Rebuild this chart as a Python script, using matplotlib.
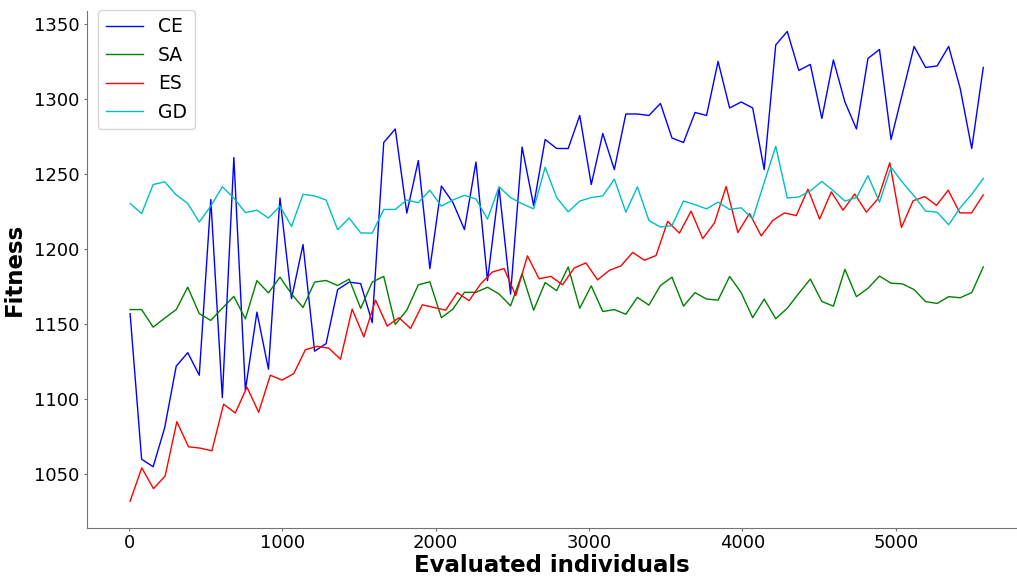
import numpy as np
import matplotlib
matplotlib.use('Agg')
import matplotlib.pyplot as plt

# fitness per algorithm
ce = [1157, 1060, 1055, 1081, 1122, 1131, 1116, 1233, 1101, 1261,
      1106, 1158, 1120, 1234, 1167, 1203, 1132, 1137, 1173, 1178,
      1177, 1151, 1271, 1280, 1224, 1259, 1187, 1242, 1231, 1213,
      1258, 1179, 1241, 1170, 1268, 1229, 1273, 1267, 1267, 1289,
      1243, 1277, 1253, 1290, 1290, 1289, 1297, 1274, 1271, 1291,
      1289, 1325, 1294, 1298, 1294, 1253, 1336, 1345, 1319, 1323,
      1287, 1326, 1298, 1280, 1327, 1333, 1273, 1304, 1335, 1321,
      1322, 1335, 1307, 1267, 1321]
sa = [1159.7, 1159.7, 1148, 1154, 1159.7, 1174.6, 1157, 1152.5, 1160.6, 1168.5,
      1153.5, 1179, 1170.8, 1181.3, 1170.1, 1161.1, 1178, 1179.1, 1175.7, 1180,
      1160.5, 1178, 1181.8, 1149.8, 1159.3, 1176.2, 1178.2, 1154.3, 1160, 1171.2,
      1171.2, 1174.6, 1170.1, 1162.2, 1183.6, 1159.3, 1177.7, 1172.3, 1188.1, 1160.6,
      1175.5, 1158.4, 1159.7, 1156.6, 1167.8, 1162.7, 1175.7, 1181.3, 1162, 1171,
      1166.7, 1166, 1181.8, 1171, 1154.3, 1166.7, 1153.6, 1160.6, 1170.5, 1180,
      1165.1, 1162, 1186.5, 1168.3, 1173.9, 1182, 1177.3, 1176.8, 1173, 1165,
      1163.8, 1168.3, 1167.6, 1171, 1188.1]
es = [1032, 1054.3, 1040.4, 1048.9, 1085, 1068.3, 1067.4, 1065.6, 1096.7, 1090.8,
      1108, 1091.3, 1116, 1112.7, 1117, 1133, 1135.2, 1134, 1126.6, 1160,
      1141.5, 1166, 1148.7, 1154.3, 1147.1, 1162.9, 1161.1, 1159.3, 1171, 1165.6,
      1176.8, 1184.7, 1187, 1169, 1195.5, 1180.2, 1181.8, 1176.2, 1187.4, 1190.8,
      1179.5, 1185.8, 1188.8, 1197.8, 1192.6, 1195.7, 1218.5, 1210.6, 1225.3, 1207,
      1217.4, 1241.7, 1211, 1223.7, 1208.8, 1219.2, 1224.1, 1222.3, 1239.9, 1220,
      1238.1, 1225.9, 1236.7, 1224.6, 1233.6, 1257.5, 1214.4, 1232.2, 1235, 1229.1,
      1239.2, 1224.1, 1224.1, 1236.1]
gd = [1230.4, 1223.7, 1243, 1244.8, 1236.1, 1230.4, 1218, 1228.6, 1241.5, 1234,
      1224.3, 1225.9, 1220.7, 1228.6, 1215.1, 1236.5, 1235.4, 1232.7, 1212.9, 1220.7,
      1210.8, 1210.6, 1226.4, 1226.4, 1232.7, 1230.9, 1239.2, 1228.6, 1232.7, 1235.8,
      1233.4, 1220, 1241.5, 1234.3, 1230.2, 1226.8, 1254.5, 1234.3, 1224.8, 1232,
      1234.3, 1235.4, 1246.6, 1224.6, 1241.5, 1219, 1214.7, 1215.6, 1232, 1229.6,
      1226.8, 1231.3, 1226.4, 1227.5, 1220.1, 1244.4, 1268.5, 1234, 1234.7, 1238.8,
      1245.1, 1238.8, 1232, 1234.3, 1248.9, 1231.3, 1254.5, 1244.4, 1235.4, 1225.3,
      1224.6, 1216.2, 1227.5, 1236.5, 1247.1]

# evaluated individuals: same span, ES has one generation less
x_first, x_last = 7, 5570
x_ce = np.linspace(x_first, x_last, len(ce))
x_es = np.linspace(x_first, x_last, len(es))

fig = plt.figure(figsize=(10.17, 5.79), dpi=100)
ax = fig.add_axes([87 / 1017, 1 - 528 / 579, (1017 - 87) / 1017, (528 - 11) / 579])

ax.plot(x_ce, ce, color='b', lw=1, label='CE')
ax.plot(x_ce, sa, color='g', lw=1, label='SA')
ax.plot(x_es, es, color='r', lw=1, label='ES')
ax.plot(x_ce, gd, color='c', lw=1, label='GD')

ax.set_xlim(-274, 5790)
ax.set_ylim(1014.2, 1358.6)
ax.set_yticks([1050, 1100, 1150, 1200, 1250, 1300, 1350])
ax.set_xticks([0, 1000, 2000, 3000, 4000, 5000])

ax.spines['top'].set_visible(False)
ax.spines['right'].set_visible(False)
for s in ['left', 'bottom']:
    ax.spines[s].set_color('0.45')
ax.tick_params(colors='0.45', labelcolor='black', labelsize=13, length=2)
ax.tick_params(axis='x', pad=2.5)
ax.tick_params(axis='y', pad=3.5)

ax.set_xlabel('Evaluated individuals', fontsize=16.5, fontweight='bold', labelpad=1)
ax.set_ylabel('Fitness', fontsize=16.5, fontweight='bold', labelpad=6)

ax.legend(loc='upper left', fontsize=13.5, borderaxespad=0,
          bbox_to_anchor=(0.012, 1.002))

fig.savefig('out.png', dpi=100)
